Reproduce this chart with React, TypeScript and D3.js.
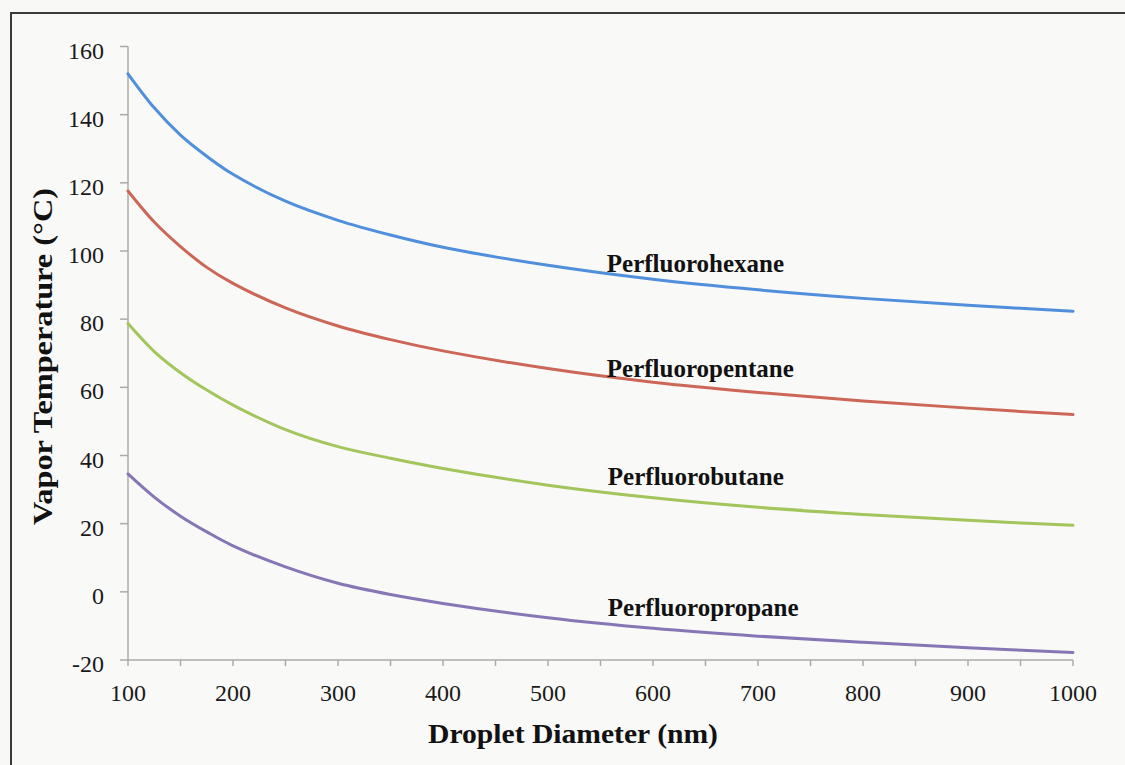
import React from "react";
import * as d3 from "d3";

// Droplet diameters (nm) at which each vapor-temperature curve is sampled
const diameters = [100, 125, 150, 175, 200, 250, 300, 350, 400, 500, 600, 700, 800, 900, 1000];

// Vapor temperatures (°C) per perfluorocarbon
const perfluorohexane = [152, 142, 134, 127.8, 122.5, 114.6, 109, 104.7, 101.1, 95.8, 91.7, 88.6, 86.1, 84.1, 82.3];
const perfluoropentane = [117.6, 108.5, 101.3, 95.2, 90.5, 83.3, 78, 74, 70.7, 65.5, 61.5, 58.5, 56, 53.9, 52];
const perfluorobutane = [78.7, 70.5, 64.3, 59.2, 54.8, 47.6, 42.6, 39.2, 36.2, 31.3, 27.6, 24.8, 22.7, 21, 19.5];
const perfluoropropane = [34.6, 27.8, 22.2, 17.6, 13.5, 7.3, 2.5, -0.8, -3.4, -7.6, -10.7, -13, -14.8, -16.4, -17.8];

const seriesNames = ["Perfluorohexane", "Perfluoropentane", "Perfluorobutane", "Perfluoropropane"];
const seriesValues = [perfluorohexane, perfluoropentane, perfluorobutane, perfluoropropane];
const seriesColors = ["#4f8fdb", "#cc6757", "#a2c55c", "#8676b6"];
// Where each curve's name sits: [diameter, temperature of the text baseline]
const labelAnchors = [
  [556, 93.8],
  [556, 63],
  [557, 31.2],
  [557, -7.1],
];

const xTicks = [100, 200, 300, 400, 500, 600, 700, 800, 900, 1000];
const xMinorTicks = d3.range(100, 1001, 50);
const yTicks = [-20, 0, 20, 40, 60, 80, 100, 120, 140, 160];

const W = 1125;
const H = 765;

export default function App() {
  const x = d3.scaleLinear().domain([100, 1000]).range([128, 1073]);
  const y = d3.scaleLinear().domain([-20, 160]).range([660, 46.5]);

  const line = d3
    .line<[number, number]>()
    .x((d) => x(d[0]))
    .y((d) => y(d[1]))
    .curve(d3.curveCatmullRom.alpha(0.5));

  const axisColor = "#ababab";
  const font = "'Liberation Serif', 'Times New Roman', serif";

  return (
    <div style={{ position: "absolute", left: 0, top: 0 }}>
      <svg width={W} height={H} viewBox={`0 0 ${W} ${H}`} style={{ display: "block" }}>
        <rect x={0} y={0} width={W} height={H} fill="#f8f8f6" />
        {/* frame */}
        <rect x={11} y={13} width={W + 20} height={H + 20} fill="#f9f9f7" stroke="#3a3a3a" strokeWidth={2} />

        {/* axes */}
        <line x1={x(100)} x2={x(100)} y1={y(160)} y2={y(-20)} stroke={axisColor} strokeWidth={1.5} />
        <line x1={x(100)} x2={x(1000)} y1={y(-20)} y2={y(-20)} stroke={axisColor} strokeWidth={1.5} />
        {yTicks.map((t) => (
          <g key={`y${t}`}>
            <line x1={x(100) - 8} x2={x(100)} y1={y(t)} y2={y(t)} stroke={axisColor} strokeWidth={1.5} />
            <text
              x={104}
              y={y(t) + 12}
              textAnchor="end"
              fontFamily={font}
              fontSize={24}
              fill="#1a1a1a"
            >
              {t}
            </text>
          </g>
        ))}
        {xMinorTicks.map((t) => (
          <line
            key={`xm${t}`}
            x1={x(t)}
            x2={x(t)}
            y1={y(-20)}
            y2={y(-20) + 6}
            stroke={axisColor}
            strokeWidth={1.5}
          />
        ))}
        {xTicks.map((t) => (
          <text
            key={`x${t}`}
            x={x(t)}
            y={701}
            textAnchor="middle"
            fontFamily={font}
            fontSize={24}
            fill="#1a1a1a"
          >
            {t}
          </text>
        ))}

        {/* curves */}
        {seriesValues.map((vals, i) => (
          <path
            key={seriesNames[i]}
            d={line(diameters.map((dd, j) => [dd, vals[j]] as [number, number])) || ""}
            fill="none"
            stroke={seriesColors[i]}
            strokeWidth={3}
            strokeLinecap="round"
          />
        ))}

        {/* curve names */}
        {seriesNames.map((name, i) => (
          <text
            key={`l${name}`}
            x={x(labelAnchors[i][0])}
            y={y(labelAnchors[i][1])}
            fontFamily={font}
            fontWeight="bold"
            fontSize={25}
            fill="#111"
          >
            {name}
          </text>
        ))}

        {/* axis titles */}
        <text
          x={573}
          y={743}
          textAnchor="middle"
          fontFamily={font}
          fontWeight="bold"
          fontSize={27}
          textLength={290}
          lengthAdjust="spacingAndGlyphs"
          fill="#111"
        >
          Droplet Diameter (nm)
        </text>
        <text
          transform={`translate(52, 356.5) rotate(-90)`}
          textAnchor="middle"
          fontFamily={font}
          fontWeight="bold"
          fontSize={27}
          textLength={337}
          lengthAdjust="spacingAndGlyphs"
          fill="#111"
        >
          Vapor Temperature (°C)
        </text>
      </svg>
    </div>
  );
}
